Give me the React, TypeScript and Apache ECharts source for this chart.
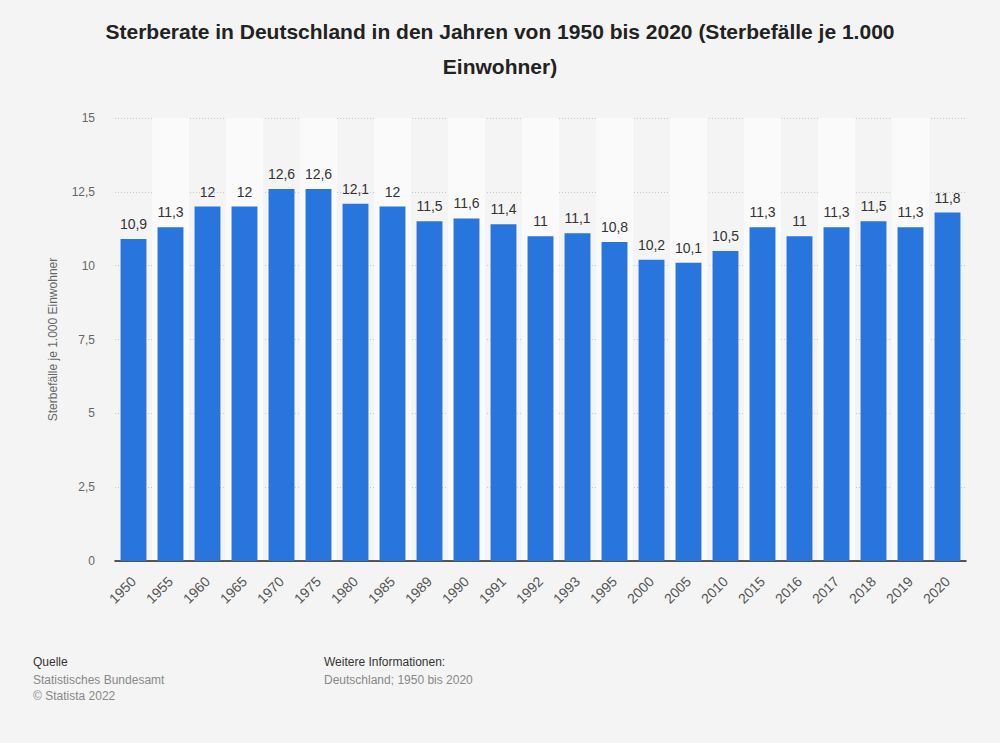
import React, { useEffect, useRef } from "react";
import * as echarts from "echarts";

const categories = ["1950","1955","1960","1965","1970","1975","1980","1985","1989","1990","1991","1992","1993","1995","2000","2005","2010","2015","2016","2017","2018","2019","2020"];
const values = [10.9,11.3,12,12,12.6,12.6,12.1,12,11.5,11.6,11.4,11,11.1,10.8,10.2,10.1,10.5,11.3,11,11.3,11.5,11.3,11.8];
const titleText = "Sterberate in Deutschland in den Jahren von 1950 bis 2020 (Sterbefälle je 1.000\nEinwohner)";
const yAxisName = "Sterbefälle je 1.000 Einwohner";

const fmt = (v: number) => String(v).replace(".", ",");

export default function App() {
  const ref = useRef<HTMLDivElement>(null);
  useEffect(() => {
    document.body.style.margin = "0";
    const chart = echarts.init(ref.current!, null, { renderer: "svg" });
    const font = "'Liberation Sans', Arial, sans-serif";
    chart.setOption({
      animation: false,
      backgroundColor: "#f4f4f4",
      textStyle: { fontFamily: font },
      grid: { left: 115, right: 34, top: 118, bottom: 182 },
      xAxis: {
        type: "category",
        data: categories,
        axisLine: { lineStyle: { color: "#222", width: 1.5 } },
        axisTick: { show: false },
        axisLabel: { rotate: 45, color: "#555", fontSize: 14, margin: 18, fontFamily: font },
        splitArea: { show: true, areaStyle: { color: ["rgba(0,0,0,0)", "#fafafa"] } },
      },
      yAxis: {
        type: "value",
        min: 0,
        max: 15,
        interval: 2.5,
        name: yAxisName,
        nameLocation: "middle",
        nameGap: 56,
        nameTextStyle: { color: "#666", fontSize: 12, fontFamily: font },
        axisLine: { show: false },
        axisTick: { show: false },
        axisLabel: { color: "#666", fontSize: 12, margin: 20, formatter: (v: number) => fmt(v), fontFamily: font },
        splitLine: { lineStyle: { color: "#c8c8c8", type: [1, 2] } },
      },
      series: [
        {
          type: "bar",
          data: values,
          barCategoryGap: "30%",
          itemStyle: { color: "#2876dd" },
          label: {
            show: true,
            position: "top",
            distance: 8,
            color: "#333",
            fontSize: 14,
            fontFamily: font,
            formatter: (p: any) => fmt(p.value),
          },
        },
      ],
      graphic: [
        {
          type: "text",
          x: 500,
          y: 14,
          style: {
            text: titleText,
            fill: "#222",
            fontSize: 21,
            fontWeight: "bold",
            lineHeight: 35,
            align: "center",
            fontFamily: font,
          },
        },
        { type: "text", left: 33, top: 656, style: { text: "Quelle", fill: "#333", fontSize: 12, fontFamily: font } },
        { type: "text", left: 33, top: 674, style: { text: "Statistisches Bundesamt", fill: "#888", fontSize: 12, fontFamily: font } },
        { type: "text", left: 33, top: 690, style: { text: "© Statista 2022", fill: "#888", fontSize: 12, fontFamily: font } },
        { type: "text", left: 324, top: 656, style: { text: "Weitere Informationen:", fill: "#333", fontSize: 12, fontFamily: font } },
        { type: "text", left: 324, top: 674, style: { text: "Deutschland; 1950 bis 2020", fill: "#888", fontSize: 12, fontFamily: font } },
      ],
    });
    return () => chart.dispose();
  }, []);
  return <div ref={ref} style={{ position: "fixed", left: 0, top: 0, width: 1000, height: 743 }} />;
}
